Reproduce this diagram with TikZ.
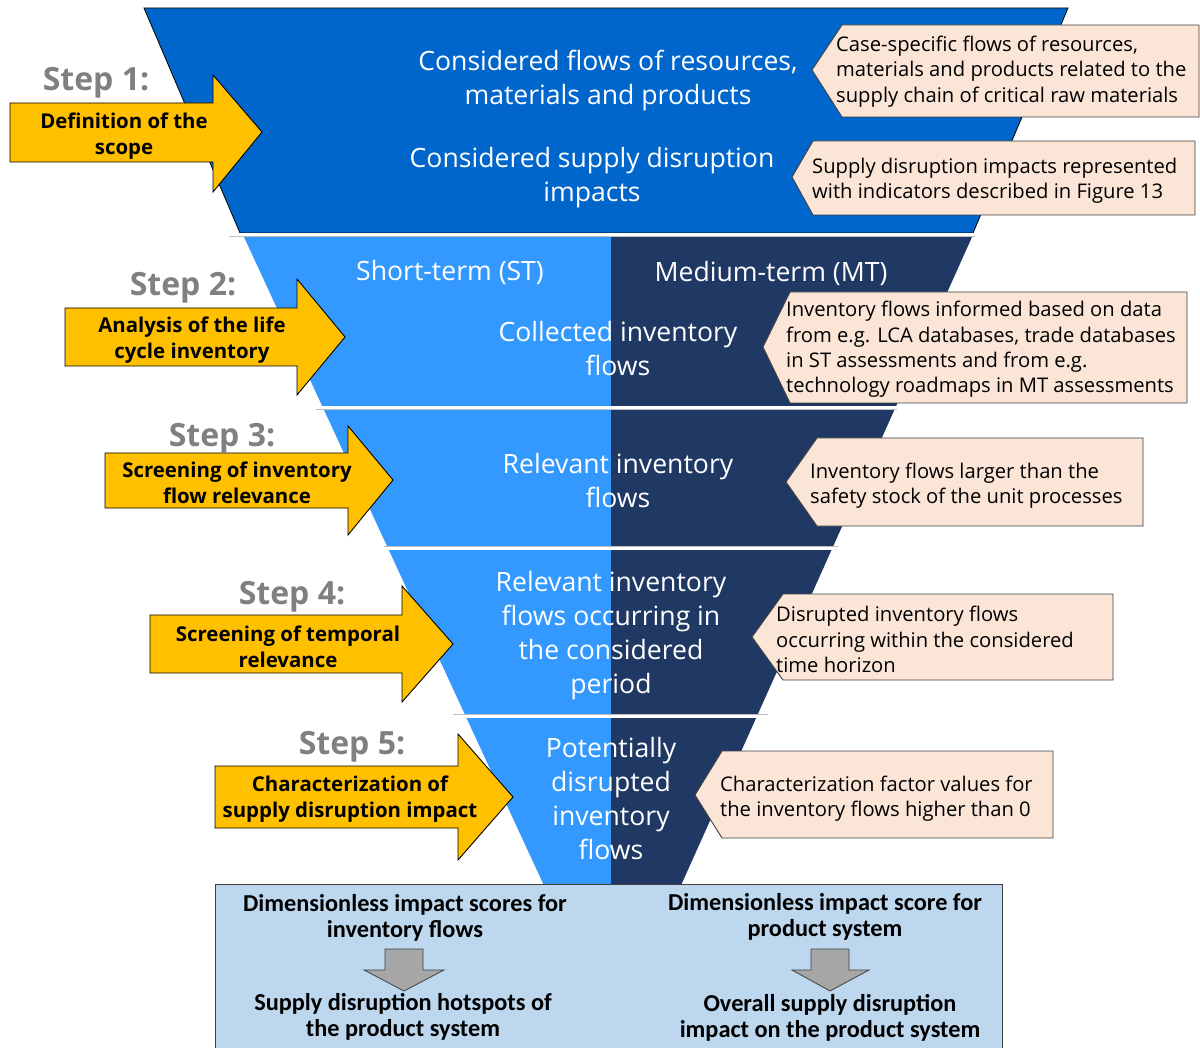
\documentclass[tikz,border=0pt]{standalone}
\usepackage{fontspec}
\setmainfont{Open Sans}
\newfontfamily\boxfont{Carlito}
\begin{document}
\begin{tikzpicture}[x=1pt,y=-1pt]
\definecolor{topblue}{HTML}{0066CC}
\definecolor{stblue}{HTML}{3399FF}
\definecolor{mtnavy}{HTML}{203864}
\definecolor{stepyellow}{HTML}{FFC000}
\definecolor{peach}{HTML}{FBE5D6}
\definecolor{resultblue}{HTML}{BDD7EE}
\definecolor{arrowgray}{HTML}{A6A6A6}
\definecolor{labelgray}{HTML}{808080}
\definecolor{edgegray}{HTML}{404040}
\tikzset{
  funneltext/.style={text=white, align=center, inner sep=0pt, font=\fontsize{26.6}{34}\selectfont},
  calltext/.style={text=black, align=left, inner sep=0pt, anchor=west, font=\fontsize{20.2}{25.3}\selectfont},
  callbox/.style={fill=peach, draw=edgegray, line width=0.9pt, line join=miter},
  stepbox/.style={fill=stepyellow, draw=black, line width=0.9pt, line join=miter},
  steptext/.style={text=black, align=center, inner sep=0pt, font=\bfseries\fontsize{20.4}{26}\selectfont},
  steplabel/.style={text=labelgray, inner sep=0pt, font=\bfseries\fontsize{32}{36}\selectfont},
  resulttext/.style={text=black, align=center, inner sep=0pt, font=\boxfont\bfseries\fontsize{24.3}{26}\selectfont},
  downarrow/.style={fill=arrowgray, draw=edgegray, line width=0.8pt, line join=miter},
  separator/.style={draw=white, line width=3pt},
  separatoredge/.style={draw=black!25, line width=4.4pt}
}
\clip (0,0) rectangle (1200,1048);
\fill[white] (0,0) rectangle (1200,1048);

% lower funnel: short-term half and medium-term half
\fill[stblue] (244,237) -- (611,237) -- (611,892) -- (547,892) -- cycle;
\fill[mtnavy] (611,237) -- (972,237) -- (678,892) -- (611,892) -- cycle;

% top section of the funnel (scope)
\filldraw[fill=topblue, draw=black, line width=0.8pt] (144,8) -- (1068,8) -- (973,233) -- (240,233) -- cycle;

% separators between the steps
\draw[separatoredge] (229,235) -- (975,235);
\draw[separator] (229,235) -- (975,235);
\draw[separatoredge] (316,408) -- (897,408);
\draw[separator] (316,408) -- (897,408);
\draw[separatoredge] (384,548) -- (838,548);
\draw[separator] (384,548) -- (838,548);
\draw[separatoredge] (453,716) -- (768,716);
\draw[separator] (453,716) -- (768,716);

% texts inside the funnel
\node[funneltext] (flows) at (608,81) {Considered flows of resources,\\materials and products};
\node[funneltext] (impacts) at (592,178) {Considered supply disruption\\impacts};
\node[funneltext] (st) at (450,273) {Short-term (ST)};
\node[funneltext] (mt) at (771,274) {Medium-term (MT)};
\node[funneltext] (collected) at (618,349) {Collected inventory\\flows};
\node[funneltext] (relevant) at (618,481) {Relevant inventory\\flows};
\node[funneltext] (temporal) at (611,636) {Relevant inventory\\flows occurring in\\the considered\\period};
\node[funneltext] (disrupted) at (611,799) {Potentially\\disrupted\\inventory\\flows};

% callouts on the right
\draw[callbox] (812,70) -- (842,25) -- (1199,25) -- (1199,117) -- (842,117) -- cycle;
\node[calltext] (c1) at (836,71.5) {Case-specific flows of resources,\\materials and products related to the\\supply chain of critical raw materials};
\draw[callbox] (792,177) -- (813,141) -- (1195,141) -- (1195,215) -- (813,215) -- cycle;
\node[calltext] (c2) at (812,180.5) {Supply disruption impacts represented\\with indicators described in Figure 13};
\draw[callbox] (763,347) -- (790,292) -- (1187,292) -- (1187,403) -- (790,403) -- cycle;
\node[calltext] (c3) at (786,349.5) {Inventory flows informed based on data\\from e.g. LCA databases, trade databases\\in ST assessments and from e.g.\\technology roadmaps in MT assessments};
\draw[callbox] (786,482) -- (817,438) -- (1143,438) -- (1143,526) -- (817,526) -- cycle;
\node[calltext] (c4) at (810,485.5) {Inventory flows larger than the\\safety stock of the unit processes};
\draw[callbox] (752,637) -- (783,594) -- (1113,594) -- (1113,680) -- (783,680) -- cycle;
\node[calltext] (c5) at (776,639.5) {Disrupted inventory flows\\occurring within the considered\\time horizon};
\draw[callbox] (695,795) -- (722,751) -- (1053,751) -- (1053,838) -- (722,838) -- cycle;
\node[calltext] (c6) at (720,798.5) {Characterization factor values for\\the inventory flows higher than 0};

% step arrows on the left
\draw[stepbox] (10,103) -- (213,103) -- (213,75) -- (262,132) -- (213,192) -- (213,162) -- (10,162) -- cycle;
\node[steptext] (a1) at (124,136) {Definition of the\\scope};
\node[steplabel] (s1) at (96,83) {Step 1:};
\draw[stepbox] (65,308) -- (297,308) -- (297,279) -- (345,337) -- (297,395) -- (297,366) -- (65,366) -- cycle;
\node[steptext] (a2) at (192,340) {Analysis of the life\\cycle inventory};
\node[steplabel] (s2) at (183,288) {Step 2:};
\draw[stepbox] (105,453) -- (348,453) -- (348,426) -- (393,480) -- (348,535) -- (348,508) -- (105,508) -- cycle;
\node[steptext] (a3) at (237,483) {Screening of inventory\\flow relevance};
\node[steplabel] (s3) at (222,439) {Step 3:};
\draw[stepbox] (150,615) -- (402,615) -- (402,586) -- (453,644) -- (402,702) -- (402,673) -- (150,673) -- cycle;
\node[steptext] (a4) at (288,647) {Screening of temporal\\relevance};
\node[steplabel] (s4) at (292,597) {Step 4:};
\draw[stepbox] (215,766) -- (458,766) -- (458,734) -- (513,797) -- (458,860) -- (458,828) -- (215,828) -- cycle;
\node[steptext] (a5) at (350,799) {Characterization of\\supply disruption impact};
\node[steplabel] (s5) at (352,747) {Step 5:};

% results box at the bottom
\filldraw[fill=resultblue, draw=edgegray, line width=0.9pt] (215,884) rectangle (1002,1070);
\node[resulttext] (scores) at (405,918) {Dimensionless impact scores for\\inventory flows};
\node[resulttext] (hotspots) at (403,1017) {Supply disruption hotspots of\\the product system};
\node[resulttext] (score) at (825,917) {Dimensionless impact score for\\product system};
\node[resulttext] (overall) at (830,1018) {Overall supply disruption\\impact on the product system};
\draw[downarrow] (385,949) -- (423,949) -- (423,970) -- (444,970) -- (404,991) -- (364,970) -- (385,970) -- cycle;
\draw[downarrow] (811,949) -- (849,949) -- (849,970) -- (869,970) -- (830,991) -- (792,970) -- (811,970) -- cycle;
\end{tikzpicture}
\end{document}
